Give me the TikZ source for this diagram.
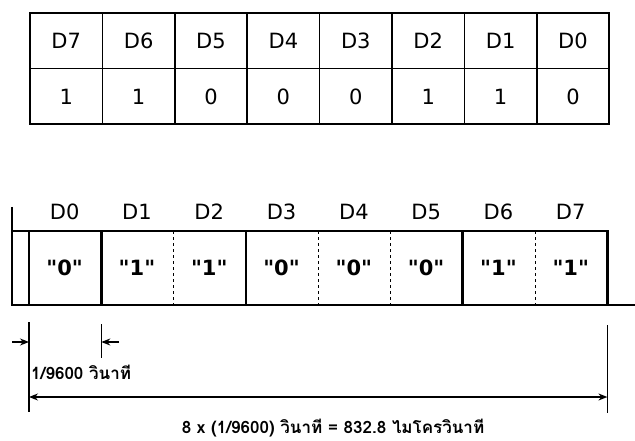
\documentclass[tikz,border=0pt]{standalone}
\usepackage{fontspec}
\setmainfont{DejaVu Sans}
\newfontfamily\valfont{DejaVu Sans}[Ligatures=ResetAll]
\newfontfamily\thaifont[Script=Thai]{Loma}
\usetikzlibrary{arrows.meta,positioning}

\newcommand\qbit[1]{"#1"}

\begin{document}
\begin{tikzpicture}[x=1pt,y=-1pt,
  cell/.style={draw,line width=1.5pt,minimum width=72.4pt,minimum height=55.5pt,
    inner sep=0pt,font=\fontsize{21}{24}\selectfont},
  bitname/.style={inner sep=0pt,font=\fontsize{21}{24}\selectfont},
  bitval/.style={inner sep=0pt,font=\valfont\fontsize{21}{24}\selectfont\bfseries},
  frame/.style={line width=1.2pt},
  sig/.style={line width=2.8pt},
  tick/.style={line width=1.3pt},
  dimarrow/.style={line width=1.3pt,-{Stealth[length=9pt,width=7pt]}},
  timetext/.style={inner sep=0pt,font=\thaifont\bfseries\fontsize{17}{20}\selectfont}]
  \useasboundingbox (0,0) rectangle (635,441);

  % byte table
  \foreach \v [count=\i from 0] in {1,1,0,0,0,1,1,0} {
    \pgfmathtruncatemacro\b{7-\i}
    \node[cell] (h\b) at (66.2+72.4*\i,41) {D\b};
    \node[cell] (v\b) at (66.2+72.4*\i,96.5) {\v};
  }

  % serial frame
  \draw[frame] (12,231) rectangle (607.4,305);
  \draw[frame] (12,207) -- (12,231);
  \foreach \k in {2,4,5,7}
    \draw[frame,dashed] (29+72.3*\k,231) -- (29+72.3*\k,305);
  \draw[sig] (12,305) -- (12,231) -- (29,231) -- (29,305) -- (101.3,305)
    -- (101.3,231) -- (245.9,231) -- (245.9,305) -- (462.8,305)
    -- (462.8,231) -- (607.4,231) -- (607.4,305) -- (635,305);
  \foreach \v [count=\i from 0] in {0,1,1,0,0,0,1,1} {
    \node[bitname] (d\i) at (64.65+72.3*\i,212) {D\i};
    \node[bitval] (s\i) at (64.65+72.3*\i,268) {\qbit{\v}};
  }

  % timing
  \coordinate (t0a) at (29,322);   \coordinate (t0b) at (29,412);
  \coordinate (t1a) at (101.3,324); \coordinate (t1b) at (101.3,358);
  \coordinate (t8a) at (607.4,325); \coordinate (t8b) at (607.4,413);
  \draw[tick] (t0a) -- (t0b);
  \draw[tick] (t1a) -- (t1b);
  \draw[tick] (t8a) -- (t8b);
  \coordinate (inL) at (12,342);  \coordinate (in0) at (29,342);
  \coordinate (inR) at (119,342); \coordinate (in1) at (101.3,342);
  \draw[dimarrow] (inL) -- (in0);
  \draw[dimarrow] (inR) -- (in1);
  \coordinate (all0) at (29,397); \coordinate (all8) at (607.4,397);
  \draw[dimarrow,{Stealth[length=9pt,width=7pt]}-{Stealth[length=9pt,width=7pt]}] (all0) -- (all8);
  \node[timetext,anchor=west] (onebit) at (31,372) {1/9600 วินาที};
  \node[timetext] (eightbit) at (333,428) {8 x (1/9600) วินาที = 832.8 ไมโครวินาที};
\end{tikzpicture}
\end{document}
